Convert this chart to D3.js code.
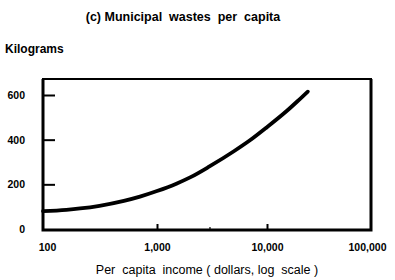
<!DOCTYPE html>
<html><head><meta charset="utf-8">
<script src="https://cdn.jsdelivr.net/npm/d3@7"></script>
<style>body{margin:0;background:#fff}svg text{font-family:"Liberation Sans",Arial,sans-serif;fill:#000;white-space:pre}</style>
</head><body>
<svg id="c" width="395" height="280" xmlns="http://www.w3.org/2000/svg"></svg>
<script>
const incomes = [92, 150, 200, 300, 500, 700, 1000, 1500, 2000, 3000, 5000, 7000, 10000, 15000, 20000, 23500];
const wastes  = [80, 86, 92, 104, 126, 145, 170, 203, 231, 280, 348, 397, 456, 527, 583, 615];
const xTicks = [100, 1000, 10000, 100000];
const xTickLabels = ["100", "1,000", "10,000", "100,000"];
const xMinorTicks = [3000];
const yTicks = [0, 200, 400, 600];

const svg = d3.select("#c");
const x = d3.scaleLog().domain([100, 100000]).range([47, 377]);
const y = d3.scaleLinear().domain([0, 600]).range([229, 95]);

svg.append("text").attr("x", 183).attr("y", 21).attr("text-anchor", "middle")
  .attr("font-size", 12.5).attr("font-weight", "bold").text("(c) Municipal  wastes  per  capita");
svg.append("text").attr("x", 5).attr("y", 53).attr("font-size", 12).attr("font-weight", "bold").text("Kilograms");

// frame
const L = 43, R = 371, T = 79, B = 230;
const ink = "#000";
svg.append("rect").attr("x", L).attr("y", T).attr("width", R - L).attr("height", B - T)
  .attr("fill", "none").attr("stroke", ink).attr("stroke-width", 2);
svg.append("path").attr("d", `M${L},${T}V${B}H${R}V${T}`)
  .attr("fill", "none").attr("stroke", ink).attr("stroke-width", 3);

// y axis
const yAxis = d3.axisLeft(y).tickValues(yTicks).tickSize(-12).tickPadding(18).tickFormat(d3.format("d"));
const gy = svg.append("g").attr("transform", `translate(${L},0)`).call(yAxis);
gy.select(".domain").remove();
gy.selectAll(".tick line").attr("stroke", ink).attr("stroke-width", 2).filter(d => d === 0).remove();
gy.selectAll("text").attr("font-size", 10.5).attr("font-weight", "bold").attr("font-family", "Liberation Sans, Arial, sans-serif");

// x axis
const xAxis = d3.axisBottom(x).tickValues(xTicks).tickSize(-6).tickPadding(14)
  .tickFormat((d, i) => xTickLabels[i]);
const gx = svg.append("g").attr("transform", `translate(0,${B})`).call(xAxis);
gx.select(".domain").remove();
gx.selectAll(".tick line").attr("stroke", ink).attr("stroke-width", 2).filter(d => d === 100 || d === 100000).remove();
gx.selectAll("text").attr("font-size", 10.5).attr("font-weight", "bold").attr("font-family", "Liberation Sans, Arial, sans-serif")
  .attr("dx", d => d === 100000 ? -10 : 0);

const gm = svg.append("g").attr("transform", `translate(0,${B})`)
  .call(d3.axisBottom(x).tickValues(xMinorTicks).tickSize(-3).tickFormat(""));
gm.select(".domain").remove();
gm.selectAll(".tick line").attr("stroke", ink).attr("stroke-width", 1.2);

svg.append("text").attr("x", 207).attr("y", 274).attr("text-anchor", "middle")
  .attr("font-size", 12.5).text("Per  capita  income ( dollars, log  scale )");

// curve
const line = d3.line().x((d, i) => x(incomes[i])).y(d => y(d)).curve(d3.curveMonotoneX);
svg.append("path").datum(wastes).attr("d", line).attr("fill", "none")
  .attr("stroke", "#000").attr("stroke-width", 3.8).attr("stroke-linecap", "round");
</script>
</body></html>
